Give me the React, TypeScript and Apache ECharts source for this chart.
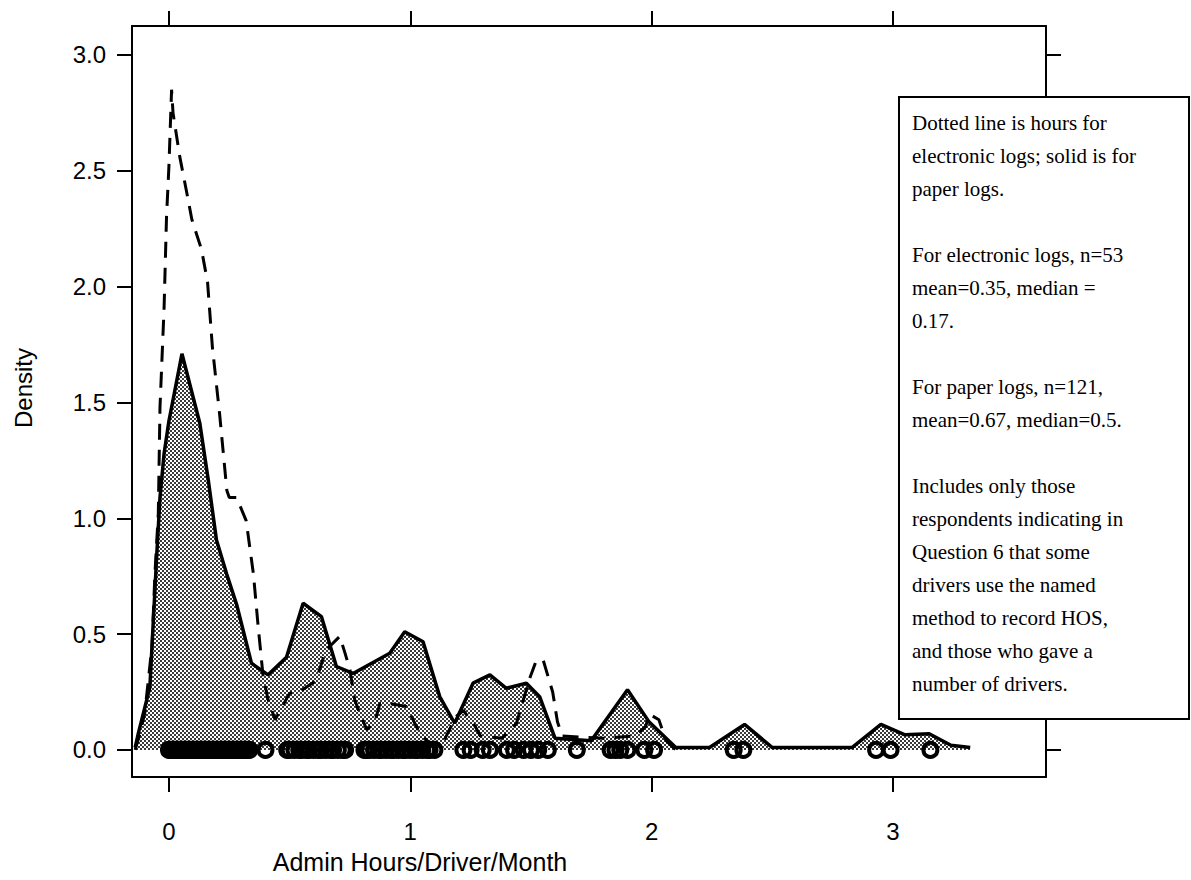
import React, { useEffect, useRef } from "react";
import * as echarts from "echarts";

// Solid curve: paper logs density
const paperX = [-0.14, -0.127, -0.079, -0.05, -0.037, -0.02, 0.0, 0.054, 0.128, 0.163, 0.197, 0.239, 0.28, 0.342, 0.411, 0.487, 0.556, 0.632, 0.694, 0.763, 0.915, 0.977, 1.053, 1.122, 1.184, 1.26, 1.33, 1.398, 1.481, 1.536, 1.6, 1.75, 1.9, 1.99, 2.1, 2.24, 2.385, 2.5, 2.83, 2.95, 3.05, 3.15, 3.24, 3.32];
const paperY = [0.01, 0.07, 0.27, 0.85, 1.09, 1.28, 1.42, 1.71, 1.41, 1.165, 0.906, 0.76, 0.63, 0.374, 0.324, 0.4, 0.633, 0.575, 0.36, 0.33, 0.417, 0.51, 0.467, 0.23, 0.115, 0.288, 0.324, 0.266, 0.288, 0.23, 0.05, 0.04, 0.26, 0.12, 0.01, 0.01, 0.11, 0.01, 0.01, 0.11, 0.065, 0.07, 0.02, 0.01];

// Dashed curve: electronic logs density
const elecX = [-0.14, -0.12, -0.1, -0.07, -0.058, -0.044, -0.037, -0.02, -0.01, 0.0, 0.011, 0.017, 0.045, 0.075, 0.095, 0.135, 0.16, 0.18, 0.21, 0.24, 0.25, 0.28, 0.32, 0.35, 0.37, 0.39, 0.41, 0.44, 0.5, 0.54, 0.61, 0.65, 0.708, 0.729, 0.75, 0.77, 0.79, 0.82, 0.853, 0.874, 0.915, 0.984, 1.005, 1.04, 1.08, 1.13, 1.19, 1.22, 1.27, 1.29, 1.38, 1.44, 1.495, 1.52, 1.55, 1.59, 1.61, 1.63, 1.8, 1.93, 1.975, 1.99, 2.03, 2.06, 2.1];
const elecY = [0.0, 0.07, 0.16, 0.45, 0.76, 1.02, 1.48, 1.91, 2.3, 2.52, 2.85, 2.75, 2.56, 2.4, 2.29, 2.16, 2.02, 1.74, 1.45, 1.12, 1.09, 1.09, 0.99, 0.76, 0.53, 0.32, 0.22, 0.13, 0.245, 0.25, 0.3, 0.43, 0.49, 0.42, 0.345, 0.215, 0.16, 0.087, 0.12, 0.2, 0.2, 0.187, 0.144, 0.07, 0.03, 0.02, 0.144, 0.17, 0.1, 0.06, 0.05, 0.115, 0.31, 0.38, 0.39, 0.25, 0.12, 0.06, 0.05, 0.06, 0.1, 0.155, 0.13, 0.04, 0.0];

// Rug of observed values (dense clusters near zero)
const rugX = [
  0, 0.008, 0.017, 0.025, 0.033, 0.042, 0.05, 0.058, 0.067, 0.075, 0.083, 0.092, 0.1, 0.108, 0.117, 0.125, 0.133, 0.142,
  0.15, 0.158, 0.167, 0.175, 0.183, 0.192, 0.2, 0.208, 0.217, 0.225, 0.233, 0.242, 0.25, 0.258, 0.267, 0.275, 0.283,
  0.292, 0.3, 0.308, 0.317, 0.325, 0.333, 0.4,
  0.49, 0.5, 0.52, 0.54, 0.55, 0.57, 0.58, 0.6, 0.62, 0.63, 0.65, 0.67, 0.68, 0.7, 0.72, 0.73,
  0.81, 0.82, 0.83, 0.85, 0.87, 0.88, 0.9, 0.92, 0.93, 0.95, 0.97, 0.98, 1.0, 1.02, 1.03, 1.05, 1.07, 1.08, 1.1,
  1.22, 1.25, 1.3, 1.33, 1.4, 1.43, 1.47, 1.5, 1.53, 1.57, 1.69, 1.83, 1.85, 1.87, 1.9, 1.97, 2.01, 2.34, 2.38,
  2.93, 2.99, 3.155,
];

const xTicks = [0, 1, 2, 3];
const yTicks = [0, 0.5, 1, 1.5, 2, 2.5, 3];

const xLabelText = "Admin Hours/Driver/Month";
const yLabelText = "Density";

const noteLines = [
  "Dotted line is hours for",
  "electronic logs; solid is for",
  "paper logs.",
  "",
  "For electronic logs, n=53",
  "mean=0.35, median =",
  "0.17.",
  "",
  "For paper logs, n=121,",
  "mean=0.67, median=0.5.",
  "",
  "Includes only those",
  "respondents indicating in",
  "Question 6 that some",
  "drivers use the named",
  "method to record HOS,",
  "and those who gave a",
  "number of drivers.",
];

const X_MIN = -0.153;
const X_MAX = 3.634;
const Y_MIN = -0.117;
const Y_MAX = 3.125;

export default function App() {
  const ref = useRef<HTMLDivElement>(null);

  useEffect(() => {
    if (!ref.current) return;
    const chart = echarts.init(ref.current, null, { renderer: "svg" });

    const cv = document.createElement("canvas");
    cv.width = 4;
    cv.height = 4;
    const ctx = cv.getContext("2d")!;
    ctx.fillStyle = "#ffffff";
    ctx.fillRect(0, 0, 4, 4);
    ctx.fillStyle = "#3a3a3a";
    ctx.fillRect(0, 0, 2, 2);
    ctx.fillRect(2, 2, 2, 2);

    const sans = "'Liberation Sans', Arial, Helvetica, sans-serif";
    const serif = "'Liberation Serif', 'Times New Roman', serif";

    const tickStyle = { show: true, inside: false, length: 15, lineStyle: { color: "#000", width: 2 } };
    const axisLine = { show: true, onZero: false, lineStyle: { color: "#000", width: 2 } };

    const noteTexts = noteLines.map((t, i) => ({
      type: "text",
      left: 912,
      top: 112 + i * 33,
      z: 101,
      style: { text: t, fill: "#000", font: `21px ${serif}` },
    }));

    chart.setOption({
      animation: false,
      backgroundColor: "#ffffff",
      grid: { left: 132, right: 145, top: 26, bottom: 103, containLabel: false },
      xAxis: [
        {
          type: "value",
          position: "bottom",
          min: X_MIN,
          max: X_MAX,
          axisLine,
          axisTick: { ...tickStyle, customValues: xTicks },
          axisLabel: {
            customValues: xTicks,
            margin: 42,
            color: "#000",
            fontFamily: sans,
            fontSize: 24,
            formatter: (v: number) => String(v),
          },
          splitLine: { show: false },
        },
        {
          type: "value",
          position: "top",
          min: X_MIN,
          max: X_MAX,
          axisLine,
          axisTick: { ...tickStyle, customValues: xTicks },
          axisLabel: { show: false },
          splitLine: { show: false },
        },
      ],
      yAxis: [
        {
          type: "value",
          position: "left",
          min: Y_MIN,
          max: Y_MAX,
          axisLine,
          axisTick: { ...tickStyle, customValues: yTicks },
          axisLabel: {
            customValues: yTicks,
            margin: 26,
            color: "#000",
            fontFamily: sans,
            fontSize: 24,
            formatter: (v: number) => v.toFixed(1),
          },
          splitLine: { show: false },
        },
        {
          type: "value",
          position: "right",
          min: Y_MIN,
          max: Y_MAX,
          axisLine,
          axisTick: { ...tickStyle, customValues: yTicks },
          axisLabel: { show: false },
          splitLine: { show: false },
        },
      ],
      series: [
        {
          name: "paper",
          type: "line",
          data: paperX.map((x, i) => [x, paperY[i]]),
          showSymbol: false,
          symbol: "none",
          lineStyle: { color: "#000", width: 3.5 },
          areaStyle: { color: { image: cv, repeat: "repeat" }, opacity: 1 },
          z: 2,
        },
        {
          name: "electronic",
          type: "line",
          data: elecX.map((x, i) => [x, elecY[i]]),
          showSymbol: false,
          symbol: "none",
          lineStyle: { color: "#000", width: 3, type: [16, 10] },
          z: 3,
        },
        {
          name: "rug",
          type: "scatter",
          data: rugX.map((x) => [x, 0]),
          symbol: "circle",
          symbolSize: 14,
          itemStyle: { color: "rgba(255,255,255,0)", borderColor: "#000", borderWidth: 4, opacity: 1 },
          z: 4,
        },
      ],
      graphic: [
        {
          type: "rect",
          shape: { x: 899, y: 97, width: 290, height: 622 },
          style: { fill: "#ffffff", stroke: "#000", lineWidth: 2 },
          z: 100,
        },
        ...noteTexts,
        {
          type: "text",
          x: 420,
          y: 862,
          z: 10,
          style: { text: xLabelText, fill: "#000", font: `25px ${sans}`, textAlign: "center", textVerticalAlign: "middle" },
        },
        {
          type: "text",
          x: 23,
          y: 388,
          rotation: Math.PI / 2,
          z: 10,
          style: { text: yLabelText, fill: "#000", font: `24px ${sans}`, textAlign: "center", textVerticalAlign: "middle" },
        },
      ],
    });

    return () => chart.dispose();
  }, []);

  return (
    <div
      ref={ref}
      style={{ position: "absolute", left: 0, top: 0, width: 1191, height: 880, background: "#fff" }}
    />
  );
}
